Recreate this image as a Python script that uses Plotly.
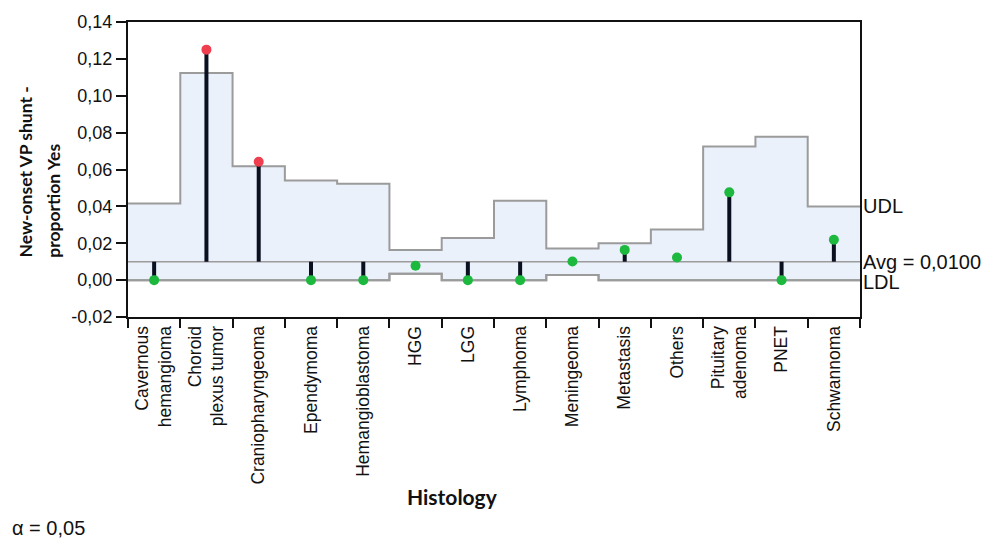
import plotly.graph_objects as go

categories = ["Cavernous<br>hemangioma", "Choroid<br>plexus tumor", "Craniopharyngeoma",
              "Ependymoma", "Hemangioblastoma", "HGG", "LGG", "Lymphoma", "Meningeoma",
              "Metastasis", "Others", "Pituitary<br>adenoma", "PNET", "Schwannoma"]
proportion = [0.0, 0.125, 0.0642, 0.0, 0.0, 0.0078, 0.0, 0.0, 0.0101, 0.0164, 0.0123, 0.0476, 0.0, 0.0219]
udl = [0.0415, 0.1123, 0.0617, 0.0540, 0.0523, 0.0164, 0.0228, 0.0431, 0.0171, 0.0200, 0.0275, 0.0725, 0.0778, 0.0400]
ldl = [0.0, 0.0, 0.0, 0.0, 0.0, 0.0035, 0.0, 0.0, 0.0028, 0.0, 0.0, 0.0, 0.0, 0.0]
avg = 0.0100
y_ticks = [-0.02, 0.0, 0.02, 0.04, 0.06, 0.08, 0.10, 0.12, 0.14]
y_ticktext = ["-0,02", "0,00", "0,02", "0,04", "0,06", "0,08", "0,10", "0,12", "0,14"]
y_title_lines = ["New-onset VP shunt -", "proportion Yes"]

n = len(categories)
idx = list(range(n))

def step(vals):
    xs, ys = [], []
    for i, v in enumerate(vals):
        xs += [i - 0.5, i + 0.5]
        ys += [v, v]
    return xs, ys

GREY = "#9b9b9b"
FILL = "#eaf1fb"
sx_l, sy_l = step(ldl)
sx_u, sy_u = step(udl)

fig = go.Figure()
fig.add_trace(go.Scatter(x=sx_l, y=sy_l, mode="lines", line=dict(color=GREY, width=2),
                         hoverinfo="skip", showlegend=False))
fig.add_trace(go.Scatter(x=sx_u, y=sy_u, mode="lines", line=dict(color=GREY, width=2),
                         fill="tonexty", fillcolor=FILL, hoverinfo="skip", showlegend=False))
fig.add_trace(go.Scatter(x=sx_l, y=sy_l, mode="lines", line=dict(color=GREY, width=2),
                         hoverinfo="skip", showlegend=False))
# average line
fig.add_trace(go.Scatter(x=[-0.5, n - 0.5], y=[avg, avg], mode="lines",
                         line=dict(color=GREY, width=1.5), hoverinfo="skip", showlegend=False))
# stems
stx, sty = [], []
for i, v in enumerate(proportion):
    stx += [i, i, None]
    sty += [avg, v, None]
fig.add_trace(go.Scatter(x=stx, y=sty, mode="lines", line=dict(color="#0b1020", width=4),
                         hoverinfo="skip", showlegend=False))
colors = ["#ee3e50" if (v > u or v < l) else "#1db83e" for v, u, l in zip(proportion, udl, ldl)]
fig.add_trace(go.Scatter(x=idx, y=proportion, mode="markers",
                         marker=dict(color=colors, size=10), showlegend=False))

tickfont = dict(family="Liberation Sans, Arial, sans-serif", size=17.5, color="#111")
fig.update_xaxes(range=[-0.5, n - 0.5], tickmode="array", tickvals=idx, ticktext=categories,
                 tickangle=-90, ticks="", tickfont=tickfont, showgrid=False, zeroline=False,
                 showline=True, linecolor="#111", linewidth=2, mirror=True,
                 minor=dict(tickmode="array", tickvals=[i - 0.5 for i in range(n + 1)],
                            ticks="outside", ticklen=9, tickwidth=2, tickcolor="#111", showgrid=False))
fig.update_yaxes(range=[-0.02, 0.14], tickmode="array", tickvals=y_ticks, ticktext=y_ticktext,
                 ticks="outside", ticklen=10, tickwidth=1.5, tickcolor="#111",
                 tickfont=dict(family="Liberation Sans, Arial, sans-serif", size=18, color="#111"),
                 showgrid=False, zeroline=False, showline=True, linecolor="#111", linewidth=2, mirror=True)

lab_font = dict(family="Liberation Sans, Arial, sans-serif", size=20, color="#111")
avg_text = "Avg = " + f"{avg:.4f}".replace(".", ",")
fig.add_annotation(xref="paper", yref="y", x=1, y=udl[-1], text="UDL", showarrow=False,
                   xanchor="left", yanchor="middle", xshift=1, font=lab_font)
fig.add_annotation(xref="paper", yref="y", x=1, y=avg, text=avg_text, showarrow=False,
                   xanchor="left", yanchor="middle", xshift=1, font=lab_font)
fig.add_annotation(xref="paper", yref="y", x=1, y=ldl[-1], text="LDL", showarrow=False,
                   xanchor="left", yanchor="middle", xshift=1, yshift=-2, font=lab_font)

title_font = dict(family="Lato, sans-serif", size=17.5, color="#111", weight="bold")
for line, xp in zip(y_title_lines, [-0.140, -0.102]):
    fig.add_annotation(xref="paper", yref="paper", x=xp, y=0.195, text=line, textangle=-90,
                       showarrow=False, xanchor="center", yanchor="bottom", font=title_font)
fig.add_annotation(xref="paper", yref="paper", x=0.443, y=-0.607, text="Histology",
                   showarrow=False, xanchor="center", yanchor="middle",
                   font=dict(family="Lato, sans-serif", size=21, color="#111", weight="bold"))
fig.add_annotation(xref="paper", yref="paper", x=-0.1607, y=-0.715, text="α = 0,05",
                   showarrow=False, xanchor="left", yanchor="middle",
                   font=dict(family="Liberation Sans, Arial, sans-serif", size=20, color="#111"))

fig.update_layout(width=991, height=540, margin=dict(l=128, r=131, t=19, b=223),
                  plot_bgcolor="white", paper_bgcolor="white", separators=",.",
                  showlegend=False)
fig.write_html("out.html")
